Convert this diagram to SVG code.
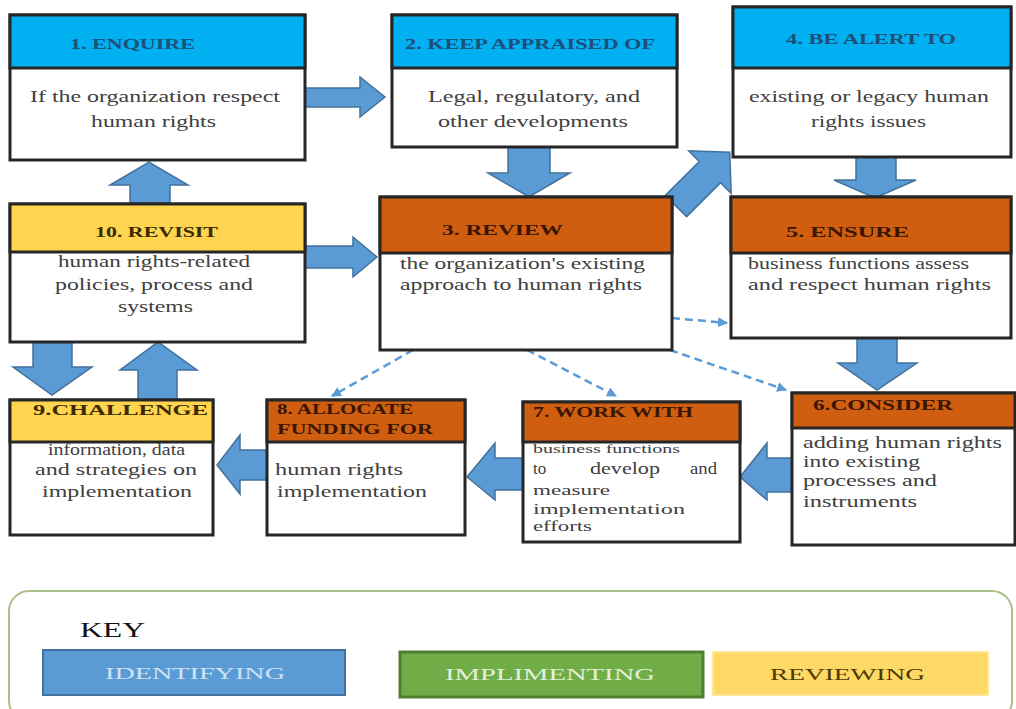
<svg xmlns="http://www.w3.org/2000/svg" width="1016" height="709" viewBox="0 0 1016 709">
<style>
.box{fill:#ffffff;stroke:#262626;stroke-width:3}
.hb{fill:#00B0F0;stroke:#262626;stroke-width:3}
.ho{fill:#CF5E10;stroke:#262626;stroke-width:3}
.hy{fill:#FFD44F;stroke:#262626;stroke-width:3}
.arr{fill:#5B9BD5;stroke:#41719C;stroke-width:1.5}
.dash{fill:none;stroke:#5B9BD5;stroke-width:2.5;stroke-dasharray:8 5}
.t{font-family:"Liberation Serif","Times New Roman",serif;font-size:17px;fill:#404040}
.tm{font-family:"Liberation Serif","Times New Roman",serif;font-size:14px;fill:#404040}
.ts{font-family:"Liberation Serif","Times New Roman",serif;font-size:13px;fill:#404040}
.hbt{font-family:"Liberation Serif","Times New Roman",serif;font-size:15px;font-weight:bold;fill:#1F4E79}
.hot{font-family:"Liberation Serif","Times New Roman",serif;font-size:15px;font-weight:bold;fill:#3A1500}
.hyt{font-family:"Liberation Serif","Times New Roman",serif;font-size:15px;font-weight:bold;fill:#3C2A00}
</style>
<defs>
<marker id="ah" viewBox="0 0 10 10" refX="9" refY="5" markerWidth="4" markerHeight="4" orient="auto">
<path d="M0,0 L10,5 L0,10 z" fill="#5B9BD5"/>
</marker>
</defs>
<rect x="0" y="0" width="1016" height="709" fill="#ffffff"/>

<g id="connectors">
<polygon class="arr" points="305,88 360,88 360,77 385,97 360,117 360,107 305,107"/>
<polygon class="arr" points="508,147 550,147 550,173 570,173 529,197 488,173 508,173"/>
<polygon class="arr" points="856,157 896,157 896,180 916,180 875,198 834,180 856,180"/>
<polygon class="arr" points="130,203 130,185 110,185 149,162 188,185 170,185 170,203"/>
<polygon class="arr" points="305,246 353,246 353,237 377,257 353,277 353,268 305,268"/>
<polygon class="arr" points="33,342 72,342 72,367 92,367 52,395 13,367 33,367"/>
<polygon class="arr" points="138,400 138,370 120,370 158,342 197,370 177,370 177,400"/>
<polygon class="arr" points="857,338 897,338 897,363 917,363 877,390 838,363 857,363"/>
<polygon class="arr" points="792,458 767,458 767,443 740,477 767,500 767,492 792,492"/>
<polygon class="arr" points="523,458 495,458 495,443 467,477 495,500 495,490 523,490"/>
<polygon class="arr" points="267,450 240,450 240,435 217,465 240,494 240,480 267,480"/>
<polygon class="arr" transform="translate(676,206) rotate(-45)" points="0,-15 48,-15 48,-30 76,0 48,30 48,15 0,15"/>
<line class="dash" x1="413" y1="350" x2="332" y2="396" marker-end="url(#ah)"/>
<line class="dash" x1="527" y1="350" x2="616" y2="396" marker-end="url(#ah)"/>
<line class="dash" x1="670" y1="350" x2="786" y2="390" marker-end="url(#ah)"/>
<line class="dash" x1="672" y1="318" x2="727" y2="323" marker-end="url(#ah)"/>
</g>

<g id="node-1">
<rect class="box" x="10" y="15" width="295" height="145"/>
<rect class="hb" x="10" y="15" width="295" height="53"/>
<text class="hbt" x="70" y="49" textLength="125" lengthAdjust="spacingAndGlyphs">1. ENQUIRE</text>
<text class="t" x="30" y="102" textLength="250" lengthAdjust="spacingAndGlyphs">If the organization respect</text>
<text class="t" x="91" y="127" textLength="125" lengthAdjust="spacingAndGlyphs">human rights</text>
</g>

<g id="node-2">
<rect class="box" x="392" y="15" width="285" height="132"/>
<rect class="hb" x="392" y="15" width="285" height="53"/>
<text class="hbt" x="405" y="49" textLength="250" lengthAdjust="spacingAndGlyphs">2. KEEP APPRAISED OF</text>
<text class="t" x="428" y="102" textLength="212" lengthAdjust="spacingAndGlyphs">Legal, regulatory, and</text>
<text class="t" x="438" y="127" textLength="190" lengthAdjust="spacingAndGlyphs">other developments</text>
</g>

<g id="node-4">
<rect class="box" x="733" y="7" width="278" height="150"/>
<rect class="hb" x="733" y="7" width="278" height="61"/>
<text class="hbt" x="786" y="44" textLength="170" lengthAdjust="spacingAndGlyphs">4. BE ALERT TO</text>
<text class="t" x="749" y="102" textLength="240" lengthAdjust="spacingAndGlyphs">existing or legacy human</text>
<text class="t" x="811" y="127" textLength="115" lengthAdjust="spacingAndGlyphs">rights issues</text>
</g>

<g id="node-10">
<rect class="box" x="10" y="204" width="295" height="138"/>
<rect class="hy" x="10" y="204" width="295" height="48"/>
<text class="hyt" x="95" y="237" textLength="123" lengthAdjust="spacingAndGlyphs">10. REVISIT</text>
<text class="t" x="58" y="267" textLength="192" lengthAdjust="spacingAndGlyphs">human rights-related</text>
<text class="t" x="55" y="290" textLength="198" lengthAdjust="spacingAndGlyphs">policies, process and</text>
<text class="t" x="118" y="312" textLength="75" lengthAdjust="spacingAndGlyphs">systems</text>
</g>

<g id="node-3">
<rect class="box" x="380" y="197" width="292" height="153"/>
<rect class="ho" x="380" y="197" width="292" height="56"/>
<text class="hot" x="442" y="235" textLength="121" lengthAdjust="spacingAndGlyphs">3. REVIEW</text>
<text class="t" x="400" y="269" textLength="245" lengthAdjust="spacingAndGlyphs">the organization's existing</text>
<text class="t" x="400" y="290" textLength="242" lengthAdjust="spacingAndGlyphs">approach to human rights</text>
</g>

<g id="node-5">
<rect class="box" x="731" y="197" width="280" height="141"/>
<rect class="ho" x="731" y="197" width="280" height="56"/>
<text class="hot" x="786" y="237" textLength="123" lengthAdjust="spacingAndGlyphs">5. ENSURE</text>
<text class="t" x="748" y="269" textLength="221" lengthAdjust="spacingAndGlyphs">business functions assess</text>
<text class="t" x="748" y="290" textLength="243" lengthAdjust="spacingAndGlyphs">and respect human rights</text>
</g>

<g id="node-9">
<rect class="box" x="10" y="400" width="203" height="135"/>
<rect class="hy" x="10" y="400" width="203" height="42"/>
<text class="hyt" x="33" y="415" textLength="175" lengthAdjust="spacingAndGlyphs">9.CHALLENGE</text>
<text class="t" x="48" y="455" textLength="137" lengthAdjust="spacingAndGlyphs">information, data</text>
<text class="t" x="35" y="475" textLength="162" lengthAdjust="spacingAndGlyphs">and strategies on</text>
<text class="t" x="42" y="497" textLength="150" lengthAdjust="spacingAndGlyphs">implementation</text>
</g>

<g id="node-8">
<rect class="box" x="267" y="400" width="198" height="135"/>
<rect class="ho" x="267" y="400" width="198" height="42"/>
<text class="hot" x="277" y="414" textLength="136" lengthAdjust="spacingAndGlyphs">8. ALLOCATE</text>
<text class="hot" x="277" y="434" textLength="156" lengthAdjust="spacingAndGlyphs">FUNDING FOR</text>
<text class="t" x="275" y="475" textLength="128" lengthAdjust="spacingAndGlyphs">human rights</text>
<text class="t" x="277" y="497" textLength="150" lengthAdjust="spacingAndGlyphs">implementation</text>
</g>

<g id="node-7">
<rect class="box" x="523" y="402" width="217" height="140"/>
<rect class="ho" x="523" y="402" width="217" height="40"/>
<text class="hot" x="533" y="417" textLength="160" lengthAdjust="spacingAndGlyphs">7. WORK WITH</text>
<text class="ts" x="533" y="453" textLength="147" lengthAdjust="spacingAndGlyphs">business functions</text>
<text class="t" x="533" y="474">to</text>
<text class="t" x="590" y="474" textLength="70" lengthAdjust="spacingAndGlyphs">develop</text>
<text class="t" x="690" y="474" textLength="27" lengthAdjust="spacingAndGlyphs">and</text>
<text class="tm" x="533" y="495" textLength="77" lengthAdjust="spacingAndGlyphs">measure</text>
<text class="tm" x="533" y="514" textLength="152" lengthAdjust="spacingAndGlyphs">implementation</text>
<text class="tm" x="533" y="531" textLength="59" lengthAdjust="spacingAndGlyphs">efforts</text>
</g>

<g id="node-6">
<rect class="box" x="792" y="393" width="223" height="152"/>
<rect class="ho" x="792" y="393" width="223" height="35"/>
<text class="hot" x="813" y="410" textLength="140" lengthAdjust="spacingAndGlyphs">6.CONSIDER</text>
<text class="t" x="803" y="448" textLength="199" lengthAdjust="spacingAndGlyphs">adding human rights</text>
<text class="t" x="803" y="467" textLength="117" lengthAdjust="spacingAndGlyphs">into existing</text>
<text class="t" x="803" y="486" textLength="134" lengthAdjust="spacingAndGlyphs">processes and</text>
<text class="t" x="803" y="507" textLength="114" lengthAdjust="spacingAndGlyphs">instruments</text>
</g>

<g id="key">
<rect x="9" y="591" width="1003" height="130" rx="20" ry="20" fill="#ffffff" stroke="#A9C08A" stroke-width="2"/>
<text x="80" y="637" font-family="'Liberation Serif','Times New Roman',serif" font-size="22" fill="#111111" textLength="65" lengthAdjust="spacingAndGlyphs">KEY</text>
<rect x="43" y="650" width="302" height="45" fill="#5B9BD5" stroke="#41719C" stroke-width="2"/>
<text x="105" y="679" font-family="'Liberation Serif','Times New Roman',serif" font-size="17" fill="#CFE2F3" textLength="180" lengthAdjust="spacingAndGlyphs">IDENTIFYING</text>
<rect x="400" y="652" width="303" height="45" fill="#70AD47" stroke="#507E32" stroke-width="3"/>
<text x="445" y="680" font-family="'Liberation Serif','Times New Roman',serif" font-size="17" fill="#E2F0D9" textLength="210" lengthAdjust="spacingAndGlyphs">IMPLIMENTING</text>
<rect x="713" y="652" width="275" height="43" fill="#FFD966" stroke="#FFE699" stroke-width="2"/>
<text x="770" y="680" font-family="'Liberation Serif','Times New Roman',serif" font-size="17" fill="#4D3800" textLength="155" lengthAdjust="spacingAndGlyphs">REVIEWING</text>
</g>
</svg>
